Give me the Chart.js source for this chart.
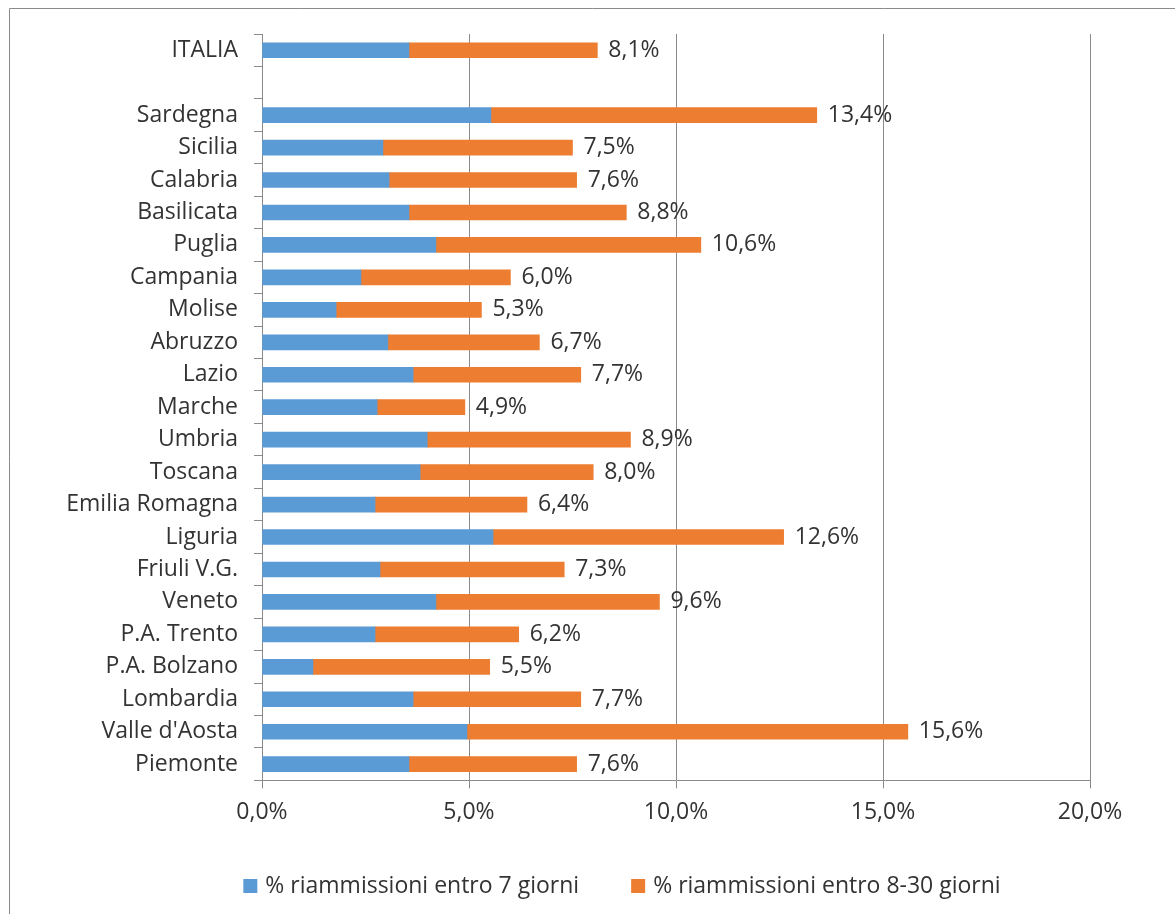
<!DOCTYPE html>
<html>
<head>
<meta charset="utf-8">
<script src="https://cdn.jsdelivr.net/npm/chart.js@4.4.1/dist/chart.umd.min.js"></script>
<style>
  html, body { margin: 0; padding: 0; background: #fff; }
  canvas { display: block; }
</style>
</head>
<body>
<canvas id="chart" width="1175" height="914"></canvas>
<script>
// regions top to bottom, "" is the empty row under ITALIA
const regions = [
  "ITALIA", "", "Sardegna", "Sicilia", "Calabria", "Basilicata", "Puglia",
  "Campania", "Molise", "Abruzzo", "Lazio", "Marche", "Umbria", "Toscana",
  "Emilia Romagna", "Liguria", "Friuli V.G.", "Veneto", "P.A. Trento",
  "P.A. Bolzano", "Lombardia", "Valle d'Aosta", "Piemonte",
];
const within7 = [
  3.55, null, 5.53, 2.92, 3.07, 3.55, 4.2, 2.39, 1.79, 3.04, 3.65, 2.78,
  3.99, 3.82, 2.73, 5.58, 2.85, 4.2, 2.73, 1.23, 3.65, 4.95, 3.55,
];
const within8to30 = [
  4.55, null, 7.87, 4.58, 4.53, 5.25, 6.4, 3.61, 3.51, 3.66, 4.05, 2.12,
  4.91, 4.18, 3.67, 7.02, 4.45, 5.4, 3.47, 4.27, 4.05, 10.65, 4.05,
];
const xTicks = [0, 5, 10, 15, 20];

const FONT = "'Open Sans'";
const SIZE = 23;
const TEXT = "#333333";
const LINE = "#8a8a8a";

const pct = (v) => v.toFixed(1).replace(".", ",") + "%";

const frame = {
  id: "frame",
  beforeDraw: (chart) => {
    const ctx = chart.ctx;
    ctx.save();
    ctx.fillStyle = "#fff";
    ctx.fillRect(0, 0, chart.width, chart.height);
    ctx.strokeStyle = LINE;
    ctx.lineWidth = 1;
    ctx.beginPath();
    ctx.moveTo(9.5, chart.height);
    ctx.lineTo(9.5, 8.5);
    ctx.lineTo(chart.width, 8.5);
    ctx.stroke();
    ctx.restore();
  },
};

const totals = {
  id: "totals",
  afterDatasetsDraw: (chart) => {
    const ctx = chart.ctx;
    const meta = chart.getDatasetMeta(1);
    ctx.save();
    ctx.font = `${SIZE}px ${FONT}`;
    ctx.fillStyle = TEXT;
    ctx.textAlign = "left";
    ctx.textBaseline = "middle";
    meta.data.forEach((bar, i) => {
      if (within7[i] == null) return;
      const total = within7[i] + within8to30[i];
      ctx.fillText(pct(total), bar.x + 11, bar.y);
    });
    ctx.restore();
  },
};

// legend drawn by hand so it can sit off-centre like the original
const bottomLegend = {
  id: "bottomLegend",
  afterDraw: (chart) => {
    const ctx = chart.ctx;
    const sets = chart.data.datasets;
    const box = 14, gap = 8, itemGap = 52, centerX = 622, y = 886;
    ctx.save();
    ctx.font = `${SIZE}px ${FONT}`;
    ctx.textBaseline = "middle";
    ctx.textAlign = "left";
    const widths = sets.map((d) => box + gap + ctx.measureText(d.label).width);
    const full = widths.reduce((a, b) => a + b, 0) + itemGap * (sets.length - 1);
    let x = centerX - full / 2;
    sets.forEach((d, i) => {
      ctx.fillStyle = d.backgroundColor;
      ctx.fillRect(x, y - box / 2, box, box);
      ctx.fillStyle = TEXT;
      ctx.fillText(d.label, x + box + gap, y);
      x += widths[i] + itemGap;
    });
    ctx.restore();
  },
};

new Chart(document.getElementById("chart"), {
  type: "bar",
  data: {
    labels: regions,
    datasets: [
      {
        label: "% riammissioni entro 7 giorni",
        data: within7,
        backgroundColor: "#5b9bd5",
        barThickness: 15,
      },
      {
        label: "% riammissioni entro 8-30 giorni",
        data: within8to30,
        backgroundColor: "#ed7d31",
        barThickness: 15,
      },
    ],
  },
  options: {
    indexAxis: "y",
    responsive: false,
    animation: false,
    layout: {
      padding: { left: 0, right: 85, top: 34, bottom: 78 },
    },
    plugins: {
      tooltip: { enabled: false },
      legend: { display: false },
    },
    scales: {
      x: {
        stacked: true,
        min: 0,
        max: 20,
        afterBuildTicks: (axis) => {
          axis.ticks = xTicks.map((v) => ({ value: v }));
        },
        ticks: {
          font: { family: FONT, size: SIZE },
          color: TEXT,
          padding: 10,
          callback: (v) => pct(v),
        },
        grid: { color: LINE, tickLength: 8 },
        border: { color: LINE },
      },
      y: {
        stacked: true,
        afterFit: (axis) => {
          axis.width = 262;
        },
        ticks: {
          font: { family: FONT, size: SIZE },
          color: TEXT,
          padding: 16,
          autoSkip: false,
        },
        grid: {
          color: LINE,
          drawOnChartArea: false,
          tickLength: 8,
        },
        border: { color: LINE },
      },
    },
  },
  plugins: [frame, totals, bottomLegend],
});
</script>
</body>
</html>
